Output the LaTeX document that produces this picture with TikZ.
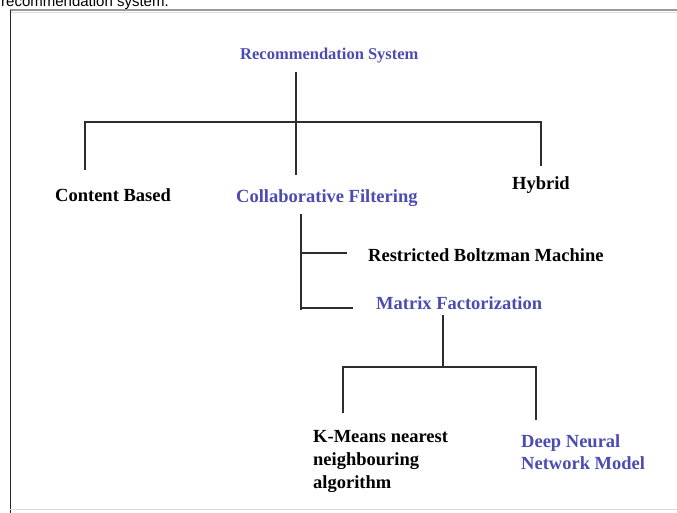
\documentclass[tikz,border=0pt]{standalone}
\usepackage{fontspec}
\setmainfont{Liberation Serif}
\setsansfont{Liberation Sans}
\definecolor{rsblue}{RGB}{75,75,178}
\definecolor{lnc}{RGB}{45,45,45}
\begin{document}
\begin{tikzpicture}[x=1pt,y=-1pt,
  lbl/.style={inner sep=0pt,anchor=base west,font=\fontsize{18.5}{23}\selectfont\bfseries,align=left},
  bluelbl/.style={lbl,text=rsblue},
  conn/.style={draw=lnc,line width=1.3pt}]
\useasboundingbox (0,0) rectangle (677,512);
\clip (0,0) rectangle (677,512);
% caption fragment and frame
\node[inner sep=0pt,anchor=base west,font=\sffamily\fontsize{15}{17}\selectfont] (cap) at (1,6.5) {recommendation system.};
\draw[gray!80,line width=1.6pt] (10,10) -- (680,10);
\draw[gray!25,line width=1pt] (11,12) -- (680,12);
\draw[black!85,line width=1.8pt] (10.5,9.5) -- (10.5,515);
\draw[gray!30,line width=1pt] (10,509.5) -- (680,509.5);
% nodes
\node[bluelbl,font=\fontsize{16.5}{20}\selectfont\bfseries] (root) at (240,59) {Recommendation System};
\node[lbl] (cb) at (55,201) {Content Based};
\node[bluelbl] (cf) at (236,202) {Collaborative Filtering};
\node[lbl] (hy) at (512,189) {Hybrid};
\node[lbl] (rbm) at (368,261) {Restricted Boltzman Machine};
\node[bluelbl] (mf) at (376,309) {Matrix Factorization};
\node[lbl] (km) at (313,488) {K-Means nearest\\neighbouring\\algorithm};
\node[bluelbl,font=\fontsize{18.5}{22}\selectfont\bfseries] (dnn) at (521,469) {Deep Neural\\Network Model};
% coordinates
\coordinate (rtop) at (296,72);
\coordinate (rbot) at (296,175);
\coordinate (b1l) at (85,122);
\coordinate (b1r) at (541,122);
\coordinate (cbtop) at (85,170);
\coordinate (hytop) at (541,166);
\coordinate (cftop) at (301,214);
\coordinate (cfbot) at (301,310);
\coordinate (cf1) at (301,253);
\coordinate (cf2) at (301,308);
\coordinate (rbmend) at (347,253);
\coordinate (mfend) at (353,308);
\coordinate (mftop) at (443,315);
\coordinate (mfbot) at (443,367);
\coordinate (b2l) at (343,367);
\coordinate (b2r) at (536,367);
\coordinate (kmtop) at (343,413);
\coordinate (dnntop) at (536,420);
% connectors
\draw[conn] (rtop) -- (rbot);
\draw[conn] (cbtop) -- (b1l) -- (b1r) -- (hytop);
\draw[conn] (cftop) -- (cfbot);
\draw[conn] (cf1) -- (rbmend);
\draw[conn] (cf2) -- (mfend);
\draw[conn] (mftop) -- (mfbot);
\draw[conn] (kmtop) -- (b2l) -- (b2r) -- (dnntop);
\end{tikzpicture}
\end{document}
